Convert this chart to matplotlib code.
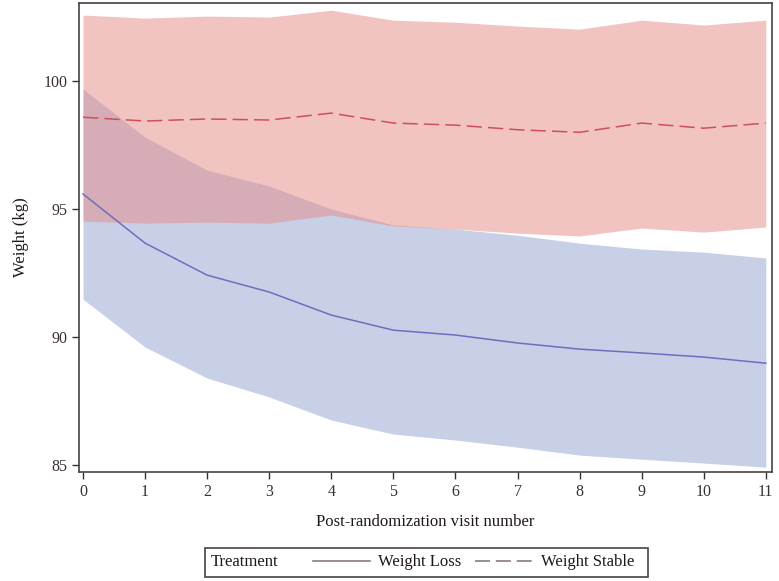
import matplotlib
matplotlib.use("Agg")
import matplotlib.pyplot as plt
from matplotlib.lines import Line2D
from matplotlib.patches import Rectangle

visits = list(range(12))
loss_mean = [95.59, 93.67, 92.42, 91.76, 90.86, 90.27, 90.08, 89.77, 89.53, 89.38, 89.22, 88.98]
loss_upper = [99.69, 97.81, 96.52, 95.90, 95.00, 94.38, 94.22, 93.98, 93.67, 93.44, 93.32, 93.09]
loss_lower = [91.48, 89.61, 88.40, 87.66, 86.76, 86.21, 85.98, 85.70, 85.39, 85.23, 85.08, 84.92]
stable_mean = [98.59, 98.44, 98.52, 98.48, 98.75, 98.36, 98.28, 98.10, 98.00, 98.36, 98.16, 98.36]
stable_upper = [102.58, 102.46, 102.54, 102.50, 102.77, 102.38, 102.30, 102.15, 102.03, 102.38, 102.19, 102.38]
stable_lower = [94.53, 94.45, 94.49, 94.45, 94.77, 94.34, 94.22, 94.06, 93.95, 94.26, 94.10, 94.30]
yticks = [85, 90, 95, 100]

plt.rcParams['font.family'] = ['Liberation Serif', 'DejaVu Serif']

fig = plt.figure(figsize=(7.79, 5.81), dpi=100)
ax = fig.add_axes([0.1014, 0.1876, 0.8896, 0.8072])

blue_fill = (200/255, 208/255, 232/255)
red_fill = (229/255, 137/255, 133/255)
ax.fill_between(visits, loss_lower, loss_upper, color=blue_fill, lw=0)
ax.fill_between(visits, stable_lower, stable_upper, color=red_fill, alpha=0.5, lw=0)
ax.plot(visits, loss_mean, color=(110/255, 110/255, 190/255), lw=1.1)
ax.plot(visits, stable_mean, color=(205/255, 80/255, 90/255), lw=1.1, dashes=(10, 4))

ax.set_xlim(-0.065, 11.1)
ax.set_ylim(84.73, 103.05)
ax.set_xticks(visits)
ax.set_yticks(yticks)
ax.tick_params(labelsize=11.5, colors='#3a3030', length=5, width=1)
for s in ax.spines.values():
    s.set_color('#4a4242')
    s.set_linewidth(1.2)
ax.set_xlabel('Post-randomization visit number', fontsize=12, labelpad=10, color='#201818')
ax.set_ylabel('Weight (kg)', fontsize=12, labelpad=10, color='#201818')

# legend frame
fig.patches.append(Rectangle((0.263, 0.007), 0.569, 0.050, transform=fig.transFigure,
                             fill=False, edgecolor='#4a4242', lw=1.2))
fig.text(0.271, 0.032, 'Treatment', fontsize=12, va='center', ha='left', color='#201818')
legc = '#8a7c7a'
handles = [Line2D([], [], color=legc, lw=1.2),
           Line2D([], [], color=legc, lw=1.2, dashes=(9, 3.5))]
leg = fig.legend(handles, ['Weight Loss', 'Weight Stable'], loc='center left',
                 bbox_to_anchor=(0.3905, 0.032), ncol=2, frameon=False, fontsize=12,
                 handlelength=3.45, handletextpad=0.5, columnspacing=0.8, borderpad=0,
                 labelcolor='#201818')

fig.savefig('out.png', dpi=100)
